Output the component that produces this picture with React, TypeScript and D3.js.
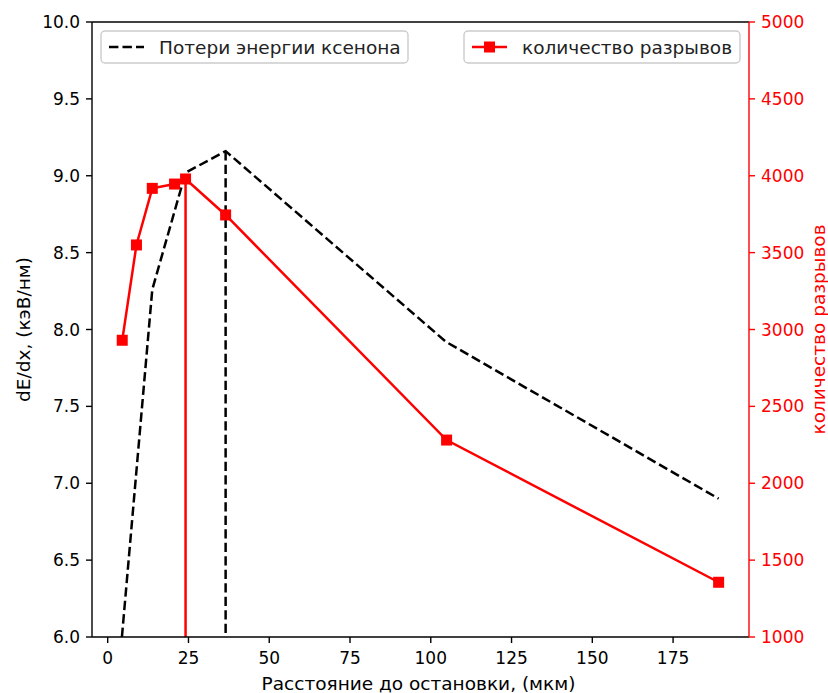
import React, { useEffect, useRef } from "react";
import * as d3 from "d3";

// Energy loss of xenon along the track (left axis)
const lossX = [4.4, 13.8, 24.1, 36.5, 104.7, 189.1];
const lossY = [6.0, 8.26, 9.02, 9.16, 7.92, 6.9];

// Number of breaks (right axis)
const breaksX = [4.5, 8.9, 13.8, 20.7, 24.1, 36.5, 104.9, 189.1];
const breaksY = [2930, 3550, 3918, 3946, 3979, 3745, 2281, 1356];

const xTicks = [0, 25, 50, 75, 100, 125, 150, 175];
const leftTicks = [6.0, 6.5, 7.0, 7.5, 8.0, 8.5, 9.0, 9.5, 10.0];
const rightTicks = [1000, 1500, 2000, 2500, 3000, 3500, 4000, 4500, 5000];

const W = 828;
const H = 693;
const M = { left: 92, right: 749, top: 22, bottom: 637 };
const FONT = "DejaVu Sans, sans-serif";
const FS = 17; // tick labels
const FL = 18.5; // axis titles and legend

export default function App() {
  const ref = useRef<SVGSVGElement | null>(null);

  useEffect(() => {
    const svg = d3.select(ref.current);
    svg.selectAll("*").remove();

    const x = d3.scaleLinear().domain([-4.86, 198.5]).range([M.left, M.right]);
    const yL = d3.scaleLinear().domain([6, 10]).range([M.bottom, M.top]);
    const yR = d3.scaleLinear().domain([1000, 5000]).range([M.bottom, M.top]);

    svg.append("rect").attr("width", W).attr("height", H).attr("fill", "#fff");

    const defs = svg.append("defs");
    defs
      .append("clipPath")
      .attr("id", "plot-clip")
      .append("rect")
      .attr("x", M.left)
      .attr("y", M.top)
      .attr("width", M.right - M.left)
      .attr("height", M.bottom - M.top);

    const plot = svg.append("g").attr("clip-path", "url(#plot-clip)");

    // energy loss curve (dashed) and its peak marker line
    const lossLine = d3
      .line<number>()
      .x((_, i) => x(lossX[i]))
      .y((d) => yL(d));
    plot
      .append("path")
      .attr("d", lossLine(lossY))
      .attr("fill", "none")
      .attr("stroke", "#000")
      .attr("stroke-width", 2.5)
      .attr("stroke-dasharray", "9.4,4.1");

    const lossPeak = d3.maxIndex(lossY);
    plot
      .append("line")
      .attr("x1", x(lossX[lossPeak]))
      .attr("x2", x(lossX[lossPeak]))
      .attr("y1", yL(lossY[lossPeak]))
      .attr("y2", yL(6) + 5)
      .attr("stroke", "#000")
      .attr("stroke-width", 2.5)
      .attr("stroke-dasharray", "9.4,4.1");

    // breaks curve with markers and its peak marker line
    const brPeak = d3.maxIndex(breaksY);
    plot
      .append("line")
      .attr("x1", x(breaksX[brPeak]))
      .attr("x2", x(breaksX[brPeak]))
      .attr("y1", yR(breaksY[brPeak]))
      .attr("y2", yR(1000) + 5)
      .attr("stroke", "red")
      .attr("stroke-width", 2.5);

    const brLine = d3
      .line<number>()
      .x((_, i) => x(breaksX[i]))
      .y((d) => yR(d));
    plot
      .append("path")
      .attr("d", brLine(breaksY))
      .attr("fill", "none")
      .attr("stroke", "red")
      .attr("stroke-width", 2.5);

    const ms = 11;
    svg
      .append("g")
      .selectAll("rect")
      .data(breaksY)
      .join("rect")
      .attr("x", (_, i) => x(breaksX[i]) - ms / 2)
      .attr("y", (d) => yR(d) - ms / 2)
      .attr("width", ms)
      .attr("height", ms)
      .attr("fill", "red");

    // spines
    const axisColor = "#000";
    svg
      .append("line")
      .attr("x1", M.left).attr("x2", M.right)
      .attr("y1", M.top).attr("y2", M.top)
      .attr("stroke", axisColor).attr("stroke-width", 1.4);
    svg
      .append("line")
      .attr("x1", M.left).attr("x2", M.right)
      .attr("y1", M.bottom).attr("y2", M.bottom)
      .attr("stroke", axisColor).attr("stroke-width", 1.4);
    svg
      .append("line")
      .attr("x1", M.left).attr("x2", M.left)
      .attr("y1", M.top).attr("y2", M.bottom)
      .attr("stroke", axisColor).attr("stroke-width", 1.4);
    svg
      .append("line")
      .attr("x1", M.right).attr("x2", M.right)
      .attr("y1", M.top).attr("y2", M.bottom)
      .attr("stroke", "red").attr("stroke-width", 1.4);

    const tickLen = 6;

    // x axis ticks
    const gx = svg.append("g");
    xTicks.forEach((t) => {
      gx.append("line")
        .attr("x1", x(t)).attr("x2", x(t))
        .attr("y1", M.bottom).attr("y2", M.bottom + tickLen)
        .attr("stroke", "#000").attr("stroke-width", 1.4);
      gx.append("text")
        .attr("x", x(t))
        .attr("y", M.bottom + tickLen + 21)
        .attr("text-anchor", "middle")
        .attr("font-family", FONT)
        .attr("font-size", FS)
        .attr("fill", "#000")
        .text(String(t));
    });

    // left axis ticks
    const gl = svg.append("g");
    leftTicks.forEach((t) => {
      gl.append("line")
        .attr("x1", M.left - tickLen).attr("x2", M.left)
        .attr("y1", yL(t)).attr("y2", yL(t))
        .attr("stroke", "#000").attr("stroke-width", 1.4);
      gl.append("text")
        .attr("x", M.left - tickLen - 6)
        .attr("y", yL(t) + 6)
        .attr("text-anchor", "end")
        .attr("font-family", FONT)
        .attr("font-size", FS)
        .attr("fill", "#000")
        .text(t.toFixed(1));
    });

    // right axis ticks
    const gr = svg.append("g");
    rightTicks.forEach((t) => {
      gr.append("line")
        .attr("x1", M.right).attr("x2", M.right + tickLen)
        .attr("y1", yR(t)).attr("y2", yR(t))
        .attr("stroke", "red").attr("stroke-width", 1.4);
      gr.append("text")
        .attr("x", M.right + tickLen + 6)
        .attr("y", yR(t) + 6)
        .attr("text-anchor", "start")
        .attr("font-family", FONT)
        .attr("font-size", FS)
        .attr("fill", "red")
        .text(String(t));
    });

    // axis titles
    svg.append("text")
      .attr("x", (M.left + M.right) / 2 - 2)
      .attr("y", 690)
      .attr("text-anchor", "middle")
      .attr("font-family", FONT)
      .attr("font-size", FL)
      .attr("fill", "#000")
      .text("Расстояние до остановки, (мкм)");

    const midY = (M.top + M.bottom) / 2;
    svg.append("text")
      .attr("transform", `translate(30,${midY}) rotate(-90)`)
      .attr("text-anchor", "middle")
      .attr("font-family", FONT)
      .attr("font-size", FL)
      .attr("fill", "#000")
      .text("dE/dx, (кэВ/нм)");

    svg.append("text")
      .attr("transform", `translate(825,${midY}) rotate(-90)`)
      .attr("text-anchor", "middle")
      .attr("font-family", FONT)
      .attr("font-size", FL)
      .attr("fill", "red")
      .text("количество разрывов");

    // legends
    const legend = (
      bx: number, by: number, bw: number, bh: number,
      label: string, kind: "dash" | "marker"
    ) => {
      const g = svg.append("g");
      g.append("rect")
        .attr("x", bx).attr("y", by)
        .attr("width", bw).attr("height", bh)
        .attr("rx", 4)
        .attr("fill", "rgba(255,255,255,0.8)")
        .attr("stroke", "#cccccc")
        .attr("stroke-width", 1.4);
      const cy = by + bh / 2;
      const lx0 = bx + 8;
      const lx1 = bx + 43;
      if (kind === "dash") {
        g.append("line")
          .attr("x1", lx0).attr("x2", lx1)
          .attr("y1", cy).attr("y2", cy)
          .attr("stroke", "#000").attr("stroke-width", 2.5)
          .attr("stroke-dasharray", "9.4,4.1");
      } else {
        g.append("line")
          .attr("x1", lx0).attr("x2", lx1)
          .attr("y1", cy).attr("y2", cy)
          .attr("stroke", "red").attr("stroke-width", 2.5);
        g.append("rect")
          .attr("x", (lx0 + lx1) / 2 - ms / 2)
          .attr("y", cy - ms / 2)
          .attr("width", ms).attr("height", ms)
          .attr("fill", "red");
      }
      g.append("text")
        .attr("x", bx + 58)
        .attr("y", cy + 6.5)
        .attr("font-family", FONT)
        .attr("font-size", FL)
        .attr("fill", "#222")
        .text(label);
    };
    legend(101, 31, 307, 32, "Потери энергии ксенона", "dash");
    legend(464, 31, 276, 32, "количество разрывов", "marker");
  }, []);

  return (
    <svg
      ref={ref}
      width={W}
      height={H}
      style={{ position: "absolute", left: 0, top: 0, display: "block" }}
    />
  );
}
